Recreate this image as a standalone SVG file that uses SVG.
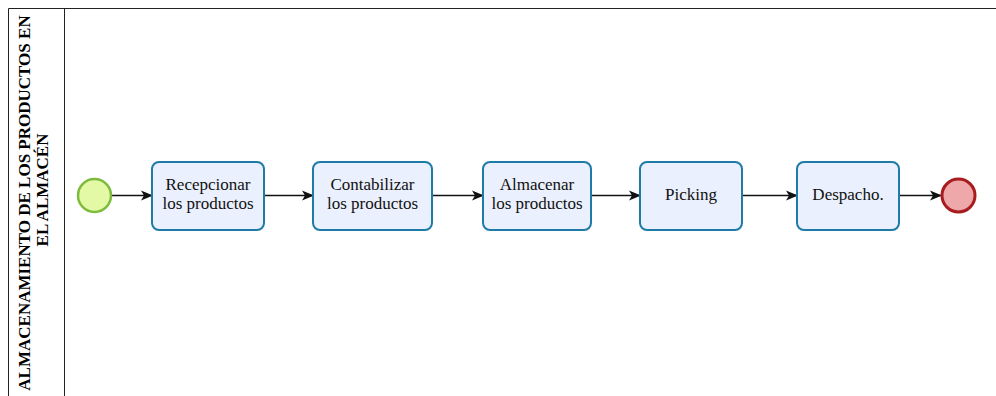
<svg xmlns="http://www.w3.org/2000/svg" width="996" height="396" viewBox="0 0 996 396">
  <style>
    .lane { fill: none; stroke: #222222; stroke-width: 1; }
    .title { font-family: "Liberation Serif", "Times New Roman", serif; font-size: 17px; font-weight: bold; fill: #000000; text-anchor: middle; }
    .box { fill: #EAF0FD; stroke: #1E7BA8; stroke-width: 2; }
    .label { font-family: "Liberation Serif", "Times New Roman", serif; font-size: 17px; fill: #111111; text-anchor: middle; }
    .start { fill: #E3F9A6; stroke: #7DBB3C; stroke-width: 2.5; }
    .end { fill: #EEA8AA; stroke: #A81B1F; stroke-width: 3; }
    .flow { fill: none; stroke: #111111; stroke-width: 1.3; marker-end: url(#arrow); }
  </style>
  <defs>
    <marker id="arrow" viewBox="0 0 12 12" refX="11" refY="6" markerWidth="12" markerHeight="12" markerUnits="userSpaceOnUse" orient="auto">
      <path d="M0,1 L12,6 L0,11 L3,6 Z" fill="#111111"/>
    </marker>
  </defs>

  <rect x="0" y="0" width="996" height="396" fill="#ffffff"/>

  <!-- pool and lane header -->
  <g id="pool">
    <path class="lane" d="M8.5,396 V8.5 H996"/>
    <path class="lane" d="M64.5,8.5 V396"/>
    <text class="title" transform="translate(30,203) rotate(-90)">ALMACENAMIENTO DE LOS PRODUCTOS EN</text>
    <text class="title" transform="translate(48,190) rotate(-90)">EL ALMACÉN</text>
  </g>

  <!-- sequence flows -->
  <g id="connectors">
    <path class="flow" d="M112,195.5 H152"/>
    <path class="flow" d="M264,195.5 H313"/>
    <path class="flow" d="M432,195.5 H483"/>
    <path class="flow" d="M591,195.5 H640"/>
    <path class="flow" d="M742,195.5 H797"/>
    <path class="flow" d="M899,195.5 H941"/>
  </g>

  <g id="start-event">
    <circle class="start" cx="94.5" cy="195.5" r="16.5"/>
  </g>

  <g id="task-recepcionar">
    <rect class="box" x="152" y="162" width="112" height="68" rx="7"/>
    <text class="label" x="208" y="190">Recepcionar</text>
    <text class="label" x="208" y="209">los productos</text>
  </g>

  <g id="task-contabilizar">
    <rect class="box" x="313" y="162" width="119" height="68" rx="7"/>
    <text class="label" x="372.5" y="190">Contabilizar</text>
    <text class="label" x="372.5" y="209">los productos</text>
  </g>

  <g id="task-almacenar">
    <rect class="box" x="483" y="162" width="108" height="68" rx="7"/>
    <text class="label" x="537" y="190">Almacenar</text>
    <text class="label" x="537" y="209">los productos</text>
  </g>

  <g id="task-picking">
    <rect class="box" x="640" y="162" width="102" height="68" rx="7"/>
    <text class="label" x="691" y="200">Picking</text>
  </g>

  <g id="task-despacho">
    <rect class="box" x="797" y="162" width="102" height="68" rx="7"/>
    <text class="label" x="848" y="200">Despacho.</text>
  </g>

  <g id="end-event">
    <circle class="end" cx="958.5" cy="195.5" r="16.5"/>
  </g>
</svg>
